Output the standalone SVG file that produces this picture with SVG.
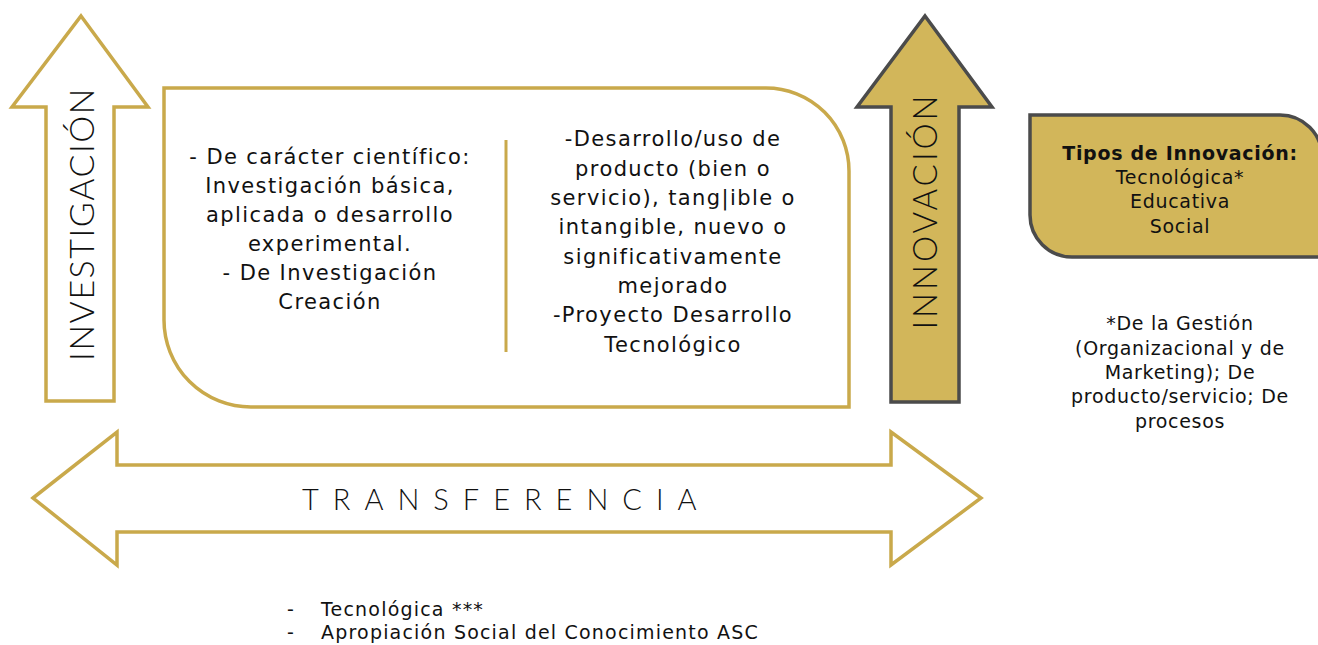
<svg xmlns="http://www.w3.org/2000/svg" width="1318" height="645" viewBox="0 0 1318 645">
<style>
.gold{fill:#ffffff;stroke:#C9A94B;stroke-width:3.5}
.goldfill{fill:#D2B65A;stroke:#4B4B4B;stroke-width:3.5}
.t{font-family:"DejaVu Sans","Noto Sans",sans-serif;fill:#111111}
.big{font-size:21px;text-anchor:middle;letter-spacing:1.4px}
.thin{font-family:Lato,"Noto Sans",sans-serif;font-weight:300;fill:#111111}
.side{font-size:19px;text-anchor:middle;letter-spacing:0.7px}
.list{font-size:19px;letter-spacing:1.2px}
</style>
<rect width="1318" height="645" fill="#ffffff"/>
<g id="connectors">
<g id="transferencia">
<path class="gold" d="M33,498 L117,432 L117,465 L891,465 L891,432 L981,498 L891,565 L891,532 L117,532 L117,565 Z"/>
<text class="thin" x="302" y="510" font-size="29" letter-spacing="14">TRANSFERENCIA</text>
</g>
</g>
<g id="investigacion">
<path class="gold" d="M81,16 L148,107 L114,107 L114,401 L46,401 L46,107 L12,107 Z"/>
<text class="thin" font-size="34" text-anchor="middle" letter-spacing="1.5" transform="translate(81,224) rotate(-90)" y="13">INVESTIGACIÓN</text>
</g>
<g id="innovacion">
<path class="goldfill" d="M925,16 L992,107 L959,107 L959,402 L891,402 L891,107 L857,107 Z"/>
<text class="thin" font-size="33" text-anchor="middle" letter-spacing="3" transform="translate(925,211) rotate(-90)" y="12">INNOVACIÓN</text>
</g>
<g id="main-box">
<path class="gold" d="M164,88 L766,88 A83,83 0 0 1 849,171 L849,407 L251,407 A87,87 0 0 1 164,320 Z"/>
<line x1="506" y1="140" x2="506" y2="352" stroke="#C9A94B" stroke-width="3"/>
<text class="t big" x="330" y="164">- De carácter científico:</text>
<text class="t big" x="330" y="193">Investigación básica,</text>
<text class="t big" x="330" y="222">aplicada o desarrollo</text>
<text class="t big" x="330" y="251">experimental.</text>
<text class="t big" x="330" y="280">- De Investigación</text>
<text class="t big" x="330" y="309">Creación</text>
<text class="t big" x="673" y="146">-Desarrollo/uso de</text>
<text class="t big" x="673" y="176">producto (bien o</text>
<text class="t big" x="673" y="205">servicio), tang|ible o</text>
<text class="t big" x="673" y="234">intangible, nuevo o</text>
<text class="t big" x="673" y="264">significativamente</text>
<text class="t big" x="673" y="293">mejorado</text>
<text class="t big" x="673" y="322">-Proyecto Desarrollo</text>
<text class="t big" x="673" y="352">Tecnológico</text>
</g>
<g id="tipos">
<path class="goldfill" d="M1030,115 L1280,115 A42,42 0 0 1 1322,157 L1322,257 L1072,257 A42,42 0 0 1 1030,215 Z"/>
<text class="t side" x="1180" y="160" font-weight="bold" font-size="19.5" letter-spacing="1">Tipos de Innovación:</text>
<text class="t side" x="1180" y="184" fill="#222222">Tecnológica*</text>
<text class="t side" x="1180" y="208" fill="#222222">Educativa</text>
<text class="t side" x="1180" y="233" fill="#222222">Social</text>
</g>
<g id="nota">
<text class="t side" x="1180" y="330">*De la Gestión</text>
<text class="t side" x="1180" y="355">(Organizacional y de</text>
<text class="t side" x="1180" y="379">Marketing); De</text>
<text class="t side" x="1180" y="403">producto/servicio; De</text>
<text class="t side" x="1180" y="428">procesos</text>
</g>
<g id="lista">
<text class="t list" x="287" y="616">-</text>
<text class="t list" x="321" y="616">Tecnológica ***</text>
<text class="t list" x="287" y="639">-</text>
<text class="t list" x="321" y="639">Apropiación Social del Conocimiento ASC</text>
</g>
</svg>
